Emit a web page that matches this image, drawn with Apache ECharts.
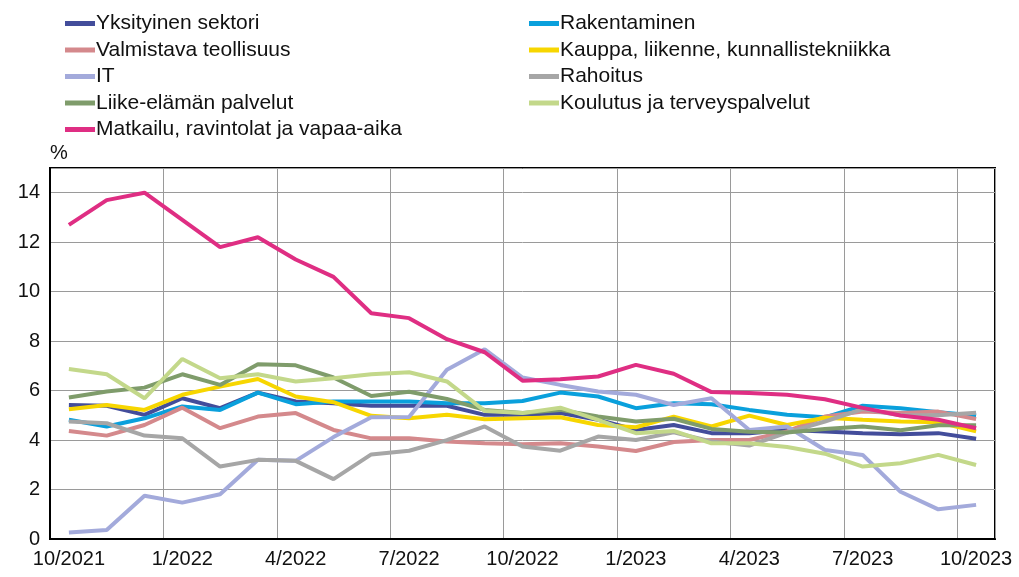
<!DOCTYPE html>
<html>
<head>
<meta charset="utf-8">
<script src="https://cdn.jsdelivr.net/npm/echarts@6/dist/echarts.min.js"></script>
<style>
    html, body { margin: 0; padding: 0; background: #fff; }
    #chart { width: 1019px; height: 577px; }
</style>
</head>
<body>
<div id="chart"></div>
<script>
    // kuukaudet 10/2021 - 10/2023
    const months = ['10/2021', '11/2021', '12/2021', '1/2022', '2/2022', '3/2022', '4/2022', '5/2022', '6/2022',
        '7/2022', '8/2022', '9/2022', '10/2022', '11/2022', '12/2022', '1/2023', '2/2023', '3/2023', '4/2023',
        '5/2023', '6/2023', '7/2023', '8/2023', '9/2023', '10/2023'];

    const yksityinen = [5.42, 5.39, 5.02, 5.69, 5.29, 5.92, 5.56, 5.49, 5.39, 5.39, 5.39, 5.02, 5.02, 5.09, 4.82, 4.41, 4.61, 4.28, 4.28, 4.41, 4.35, 4.28, 4.24, 4.28, 4.05];
    const rakentaminen = [4.82, 4.55, 4.88, 5.36, 5.22, 5.92, 5.45, 5.56, 5.56, 5.56, 5.49, 5.49, 5.58, 5.92, 5.76, 5.29, 5.49, 5.45, 5.22, 5.02, 4.92, 5.39, 5.29, 5.13, 4.99];
    const valmistava = [4.37, 4.18, 4.61, 5.31, 4.48, 4.95, 5.09, 4.41, 4.07, 4.07, 3.94, 3.87, 3.83, 3.87, 3.74, 3.56, 3.92, 4.0, 4.0, 4.35, 4.95, 5.15, 5.09, 5.15, 4.85];
    const kauppa = [5.25, 5.42, 5.22, 5.83, 6.16, 6.47, 5.76, 5.53, 4.98, 4.88, 5.02, 4.84, 4.88, 4.92, 4.61, 4.52, 4.95, 4.55, 4.99, 4.61, 4.9, 4.82, 4.75, 4.72, 4.35];
    const it = [0.26, 0.36, 1.75, 1.47, 1.81, 3.2, 3.16, 4.12, 4.92, 4.93, 6.84, 7.67, 6.53, 6.23, 5.96, 5.83, 5.42, 5.69, 4.41, 4.55, 3.6, 3.4, 1.91, 1.2, 1.38];
    const rahoitus = [4.75, 4.68, 4.18, 4.07, 2.93, 3.2, 3.16, 2.42, 3.42, 3.57, 4.0, 4.55, 3.74, 3.57, 4.14, 4.0, 4.31, 3.94, 3.78, 4.3, 4.75, 5.25, 5.0, 5.0, 5.1];
    const liike = [5.72, 5.96, 6.12, 6.66, 6.23, 7.07, 7.02, 6.53, 5.78, 5.95, 5.66, 5.22, 5.09, 5.22, 4.95, 4.75, 4.86, 4.45, 4.34, 4.31, 4.45, 4.55, 4.4, 4.6, 4.6];
    const koulutus = [6.87, 6.66, 5.69, 7.28, 6.5, 6.66, 6.37, 6.5, 6.66, 6.74, 6.37, 5.18, 5.09, 5.31, 4.82, 4.28, 4.37, 3.87, 3.87, 3.72, 3.45, 2.93, 3.06, 3.4, 2.99];
    const matkailu = [12.7, 13.7, 14.0, 12.9, 11.8, 12.2, 11.3, 10.6, 9.13, 8.93, 8.08, 7.55, 6.4, 6.46, 6.57, 7.04, 6.68, 5.94, 5.9, 5.83, 5.65, 5.3, 4.99, 4.82, 4.48];

    const chart = echarts.init(document.getElementById('chart'));

    const font = 'Liberation Sans, Arial, sans-serif';

    function line(name, data, color) {
        return {
            name: name,
            type: 'line',
            data: data,
            symbol: 'none',
            color: color,
            lineStyle: {width: 4, color: color},
            emphasis: {disabled: true}
        };
    }

    const legendBase = {
        orient: 'vertical',
        top: 8,
        icon: 'rect',
        itemWidth: 30,
        itemHeight: 5,
        itemGap: 5.5,
        textStyle: {fontFamily: font, fontSize: 21, lineHeight: 21, color: '#111', padding: [0, 0, 0, -4]}
    };

    option = {
        backgroundColor: '#fff',
        animation: false,
        textStyle: {fontFamily: font},
        legend: [
            Object.assign({}, legendBase, {
                left: 60,
                data: ['Yksityinen sektori', 'Valmistava teollisuus', 'IT', 'Liike-elämän palvelut', 'Matkailu, ravintolat ja vapaa-aika']
            }),
            Object.assign({}, legendBase, {
                left: 524,
                data: ['Rakentaminen', 'Kauppa, liikenne, kunnallistekniikka', 'Rahoitus', 'Koulutus ja terveyspalvelut']
            })
        ],
        graphic: [{
            type: 'text',
            left: 50,
            top: 143,
            style: {text: '%', fontFamily: font, fontSize: 20, fill: '#111'}
        }],
        grid: {
            left: 50,
            right: 24,
            top: 168,
            bottom: 38,
            show: true,
            borderColor: '#000',
            borderWidth: 2
        },
        xAxis: {
            type: 'category',
            data: months,
            boundaryGap: true,
            axisLine: {lineStyle: {color: '#000', width: 2}},
            axisTick: {show: false},
            axisLabel: {interval: 2, color: '#111', fontSize: 20, margin: 10},
            splitLine: {show: true, interval: 2, lineStyle: {color: '#9a9a9a', width: 1}}
        },
        yAxis: {
            type: 'value',
            min: 0,
            max: 15,
            interval: 2,
            axisLine: {show: true, lineStyle: {color: '#000', width: 2}},
            axisTick: {show: false},
            axisLabel: {color: '#111', fontSize: 20, margin: 10, showMaxLabel: false},
            splitLine: {lineStyle: {color: '#9a9a9a', width: 1}}
        },
        series: [
            line('Yksityinen sektori', yksityinen, '#434d9b'),
            line('Rakentaminen', rakentaminen, '#0aa0dc'),
            line('Valmistava teollisuus', valmistava, '#d4898c'),
            line('Kauppa, liikenne, kunnallistekniikka', kauppa, '#f7d600'),
            line('IT', it, '#a3aadb'),
            line('Rahoitus', rahoitus, '#a6a6a6'),
            line('Liike-elämän palvelut', liike, '#7f9c6b'),
            line('Koulutus ja terveyspalvelut', koulutus, '#c3d88a'),
            line('Matkailu, ravintolat ja vapaa-aika', matkailu, '#df2e83')
        ]
    };

    chart.setOption(option);

    window.onresize = function () {
        chart.resize();
    }
</script>
</body>
</html>
